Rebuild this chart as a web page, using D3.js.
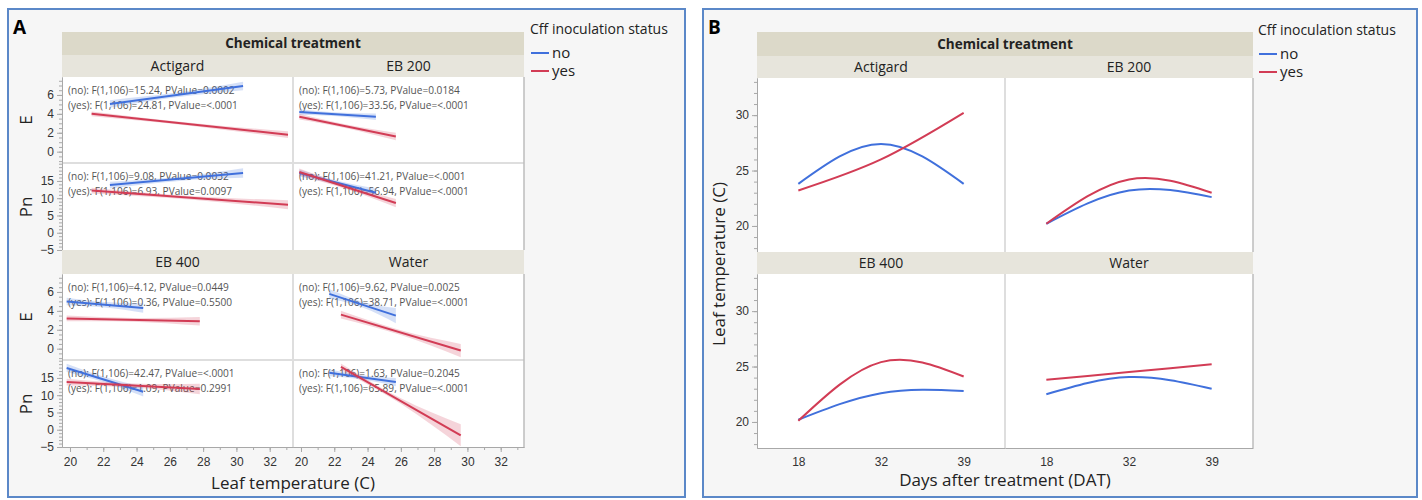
<!DOCTYPE html>
<html>
<head>
<meta charset="utf-8">
<script src="https://cdn.jsdelivr.net/npm/d3@7"></script>
<style>
body { margin: 0; background: #fff; }
svg { display: block; font-family: "Open Sans", "Noto Sans", sans-serif; }
</style>
</head>
<body>
<div id="chart"></div>
<script>
var svgWidth = 1422;
var svgHeight = 500;
var blue = "#4070dc";
var red = "#d23c55";

var treatments = ["Actigard", "EB 200", "EB 400", "Water"];
var statuses = ["no", "yes"];

// panel A fitted lines, per treatment: [temp start, temp end, value start, value end]
var eNo = [[22.4, 30.4, 5.05, 6.95], [19.9, 24.5, 4.2, 3.7], [19.8, 24.4, 5.0, 4.3], [21.7, 25.7, 5.8, 3.5]];
var eYes = [[21.3, 33.1, 4.0, 1.8], [19.9, 25.7, 3.7, 1.6], [19.8, 27.8, 3.2, 2.9], [22.4, 29.6, 3.6, -0.2]];
var pnNo = [[22.4, 30.4, 13.8, 17.3], [19.9, 24.5, 17.3, 11.6], [19.8, 24.4, 17.9, 11.0], [21.7, 25.7, 16.5, 13.8]];
var pnYes = [[21.3, 33.1, 12.2, 8.1], [19.9, 25.7, 17.6, 8.6], [19.8, 27.8, 13.8, 11.8], [22.4, 29.6, 18.2, -1.6]];

// confidence band half widths: start, middle, end
var eNoBand = [[0.4, 0.25, 0.45], [0.3, 0.2, 0.35], [0.4, 0.3, 0.5], [0.5, 0.3, 0.8]];
var eYesBand = [[0.25, 0.15, 0.35], [0.3, 0.2, 0.4], [0.3, 0.2, 0.45], [0.4, 0.25, 0.7]];
var pnNoBand = [[1.0, 0.6, 1.4], [1.0, 0.6, 1.2], [1.2, 0.8, 1.4], [1.0, 0.6, 1.2]];
var pnYesBand = [[0.8, 0.5, 1.3], [1.0, 0.6, 1.2], [1.0, 0.6, 1.5], [1.0, 0.8, 3.2]];

var eStats = [
  ["(no): F(1,106)=15.24, PValue=0.0002", "(yes): F(1,106)=24.81, PValue=<.0001"],
  ["(no): F(1,106)=5.73, PValue=0.0184", "(yes): F(1,106)=33.56, PValue=<.0001"],
  ["(no): F(1,106)=4.12, PValue=0.0449", "(yes): F(1,106)=0.36, PValue=0.5500"],
  ["(no): F(1,106)=9.62, PValue=0.0025", "(yes): F(1,106)=38.71, PValue=<.0001"]
];
var pnStats = [
  ["(no): F(1,106)=9.08, PValue=0.0032", "(yes): F(1,106)=6.93, PValue=0.0097"],
  ["(no): F(1,106)=41.21, PValue=<.0001", "(yes): F(1,106)=56.94, PValue=<.0001"],
  ["(no): F(1,106)=42.47, PValue=<.0001", "(yes): F(1,106)=1.09, PValue=0.2991"],
  ["(no): F(1,106)=1.63, PValue=0.2045", "(yes): F(1,106)=65.89, PValue=<.0001"]
];

var tempTicks = [20, 22, 24, 26, 28, 30, 32];
var eTicks = [0, 2, 4, 6];
var pnTicks = [-5, 0, 5, 10, 15];

// panel B: leaf temperature by days after treatment
var dat = ["18", "32", "39"];
var leafNo = [[23.8, 27.4, 23.8], [20.2, 23.2, 22.6], [20.2, 22.6, 22.8], [22.5, 24.05, 23.0]];
var leafYes = [[23.2, 26.0, 30.2], [20.2, 24.2, 23.0], [20.1, 25.4, 24.1], [23.8, 24.5, 25.2]];
var leafTicks = [20, 25, 30];

var svg = d3.select("#chart").append("svg")
  .attr("width", svgWidth)
  .attr("height", svgHeight);

function frame(x, y, w, h, letter) {
  svg.append("rect")
    .attr("x", x).attr("y", y).attr("width", w).attr("height", h)
    .attr("fill", "#f6f6f6").attr("stroke", "#5b88c8").attr("stroke-width", 2);
  svg.append("text")
    .attr("x", x + 5).attr("y", y + 25)
    .attr("font-size", 19).attr("font-weight", "bold").attr("fill", "#000")
    .text(letter);
}

function strip(x, y, w, h, label, fill, bold) {
  svg.append("rect").attr("x", x).attr("y", y).attr("width", w).attr("height", h).attr("fill", fill);
  svg.append("text")
    .attr("x", x + w / 2).attr("y", y + h / 2)
    .attr("dy", "0.35em").attr("text-anchor", "middle")
    .attr("font-size", bold ? 13.5 : 14)
    .attr("font-weight", bold ? "bold" : "normal")
    .attr("fill", "#222")
    .text(label);
}

function legend(x, y) {
  svg.append("text").attr("x", x).attr("y", y).attr("dy", "0.35em")
    .attr("font-size", 14).attr("fill", "#222").text("Cff inoculation status");
  statuses.forEach(function (s, i) {
    var ly = y + 24 + i * 18;
    svg.append("line").attr("x1", x + 1).attr("x2", x + 19).attr("y1", ly).attr("y2", ly)
      .attr("stroke", i == 0 ? blue : red).attr("stroke-width", 2);
    svg.append("text").attr("x", x + 22).attr("y", ly).attr("dy", "0.35em")
      .attr("font-size", 15).attr("fill", "#222").text(s);
  });
}

function styleAxis(g) {
  g.select(".domain").attr("stroke", "#a8a8a8");
  g.selectAll(".tick line").attr("stroke", "#a8a8a8");
  g.selectAll(".tick text").attr("fill", "#333").attr("font-family", "inherit");
}

function yAxisWithMinor(x, scale, major, minorStep, fontSize) {
  var d = scale.domain();
  var minor = d3.range(Math.ceil(d[0] / minorStep) * minorStep, d[1], minorStep);
  svg.append("g").attr("transform", "translate(" + x + ",0)")
    .call(d3.axisLeft(scale).tickValues(minor).tickSize(3).tickFormat("").tickSizeOuter(0))
    .call(styleAxis);
  svg.append("g").attr("transform", "translate(" + x + ",0)")
    .call(d3.axisLeft(scale).tickValues(major).tickSize(5).tickSizeOuter(0).tickPadding(3))
    .call(styleAxis)
    .selectAll(".tick text").attr("font-size", fontSize);
}

// ---------------- panel A ----------------
frame(8, 9, 677, 488, "A");
legend(530, 29);

var colL = [62, 293];
var colW = 231;
var blockTop = [55, 250];
var stripH = [22, 24];

strip(62, 32, 462, 23, "Chemical treatment", "#dcd9c9", true);

var bandArea = function (x, y) {
  return d3.area().x(function (d) { return x(d[0]); })
    .y0(function (d) { return y(d[1] - d[2]); })
    .y1(function (d) { return y(d[1] + d[2]); })
    .curve(d3.curveNatural);
};

function drawFit(g, x, y, fit, band, color) {
  var tm = (fit[0] + fit[1]) / 2, vm = (fit[2] + fit[3]) / 2;
  var pts = [[fit[0], fit[2], band[0]], [tm, vm, band[1]], [fit[1], fit[3], band[2]]];
  g.append("path").attr("d", bandArea(x, y)(pts))
    .attr("fill", color).attr("fill-opacity", 0.22);
  g.append("line")
    .attr("x1", x(fit[0])).attr("y1", y(fit[2]))
    .attr("x2", x(fit[1])).attr("y2", y(fit[3]))
    .attr("stroke", color).attr("stroke-width", 2);
}

[0, 1].forEach(function (b) {
  var top = blockTop[b] + stripH[b];
  var eY = d3.scaleLinear().domain([-1.2, 7.9]).range([top + 86, top]);
  var pnY = d3.scaleLinear().domain([-5, 20.2]).range([top + 173, top + 86]);

  [0, 1].forEach(function (c) {
    var t = b * 2 + c;
    var x = d3.scaleLinear().domain([19.52, 33.4]).range([colL[c], colL[c] + colW]);
    strip(colL[c], blockTop[b], colW, stripH[b], treatments[t], "#e7e5dc", false);
    svg.append("rect").attr("x", colL[c]).attr("y", top).attr("width", colW).attr("height", 173)
      .attr("fill", "#fff");

    var g = svg.append("g");
    // stats text sits under the lines
    [[eStats[t], top], [pnStats[t], top + 86]].forEach(function (s) {
      s[0].forEach(function (line, i) {
        g.append("text").attr("x", colL[c] + 6).attr("y", s[1] + 13 + i * 15.5)
          .attr("dy", "0.35em").attr("font-size", 10.1).attr("fill", "#555").text(line);
      });
    });
    drawFit(g, x, eY, eNo[t], eNoBand[t], blue);
    drawFit(g, x, eY, eYes[t], eYesBand[t], red);
    drawFit(g, x, pnY, pnNo[t], pnNoBand[t], blue);
    drawFit(g, x, pnY, pnYes[t], pnYesBand[t], red);

    // row separator
    svg.append("line").attr("x1", colL[c]).attr("x2", colL[c] + colW)
      .attr("y1", top + 86).attr("y2", top + 86).attr("stroke", "#dedede").attr("stroke-width", 2);

    if (b == 1) {
      var xMinor = d3.range(20, 34, 1);
      svg.append("g").attr("transform", "translate(0," + (top + 173) + ")")
        .call(d3.axisBottom(x).tickValues(xMinor).tickSize(3).tickFormat("").tickSizeOuter(0))
        .call(styleAxis);
      svg.append("g").attr("transform", "translate(0," + (top + 173) + ")")
        .call(d3.axisBottom(x).tickValues(tempTicks).tickSize(5).tickSizeOuter(0).tickPadding(5))
        .call(styleAxis)
        .selectAll(".tick text").attr("font-size", 12);
    }
  });

  // column separator and right border
  svg.append("line").attr("x1", 293).attr("x2", 293).attr("y1", top).attr("y2", top + 173)
    .attr("stroke", "#dedede").attr("stroke-width", 2);
  svg.append("line").attr("x1", 524).attr("x2", 524).attr("y1", top).attr("y2", top + 173)
    .attr("stroke", "#bdbdbd").attr("stroke-width", 1.5);

  yAxisWithMinor(62, eY, eTicks, 0.5, 12);
  yAxisWithMinor(62, pnY, pnTicks, 1, 12);

  svg.append("text").attr("transform", "translate(26," + (top + 43) + ") rotate(-90)")
    .attr("text-anchor", "middle").attr("dy", "0.35em").attr("font-size", 17).attr("fill", "#222").text("E");
  svg.append("text").attr("transform", "translate(26," + (top + 130) + ") rotate(-90)")
    .attr("text-anchor", "middle").attr("dy", "0.35em").attr("font-size", 17).attr("fill", "#222").text("Pn");
});

svg.append("text").attr("x", 293).attr("y", 483).attr("dy", "0.35em")
  .attr("text-anchor", "middle").attr("font-size", 17).attr("fill", "#222")
  .text("Leaf temperature (C)");

// ---------------- panel B ----------------
frame(703, 9, 714, 488, "B");
legend(1258, 30);

var colLB = [757, 1005];
var colWB = 248;
var blockTopB = [56, 252];

strip(757, 32, 496, 24, "Chemical treatment", "#dcd9c9", true);

var line = d3.line().curve(d3.curveNatural);

[0, 1].forEach(function (b) {
  var top = blockTopB[b] + 22;
  var y = d3.scaleLinear().domain([17.65, 33.35]).range([top + 174, top]);

  [0, 1].forEach(function (c) {
    var t = b * 2 + c;
    var x = d3.scalePoint().domain(dat).range([colLB[c], colLB[c] + colWB]).padding(0.5);
    strip(colLB[c], blockTopB[b], colWB, 22, treatments[t], "#e7e5dc", false);
    svg.append("rect").attr("x", colLB[c]).attr("y", top).attr("width", colWB).attr("height", 174)
      .attr("fill", "#fff");

    [[leafNo[t], blue], [leafYes[t], red]].forEach(function (s) {
      var pts = s[0].map(function (v, i) { return [x(dat[i]), y(v)]; });
      svg.append("path").attr("d", line(pts)).attr("fill", "none")
        .attr("stroke", s[1]).attr("stroke-width", 2);
    });

    if (b == 1) {
      svg.append("g").attr("transform", "translate(0," + (top + 174) + ")")
        .call(d3.axisBottom(x).tickSize(0).tickSizeOuter(0).tickPadding(9))
        .call(styleAxis)
        .selectAll(".tick text").attr("font-size", 12);
    }
  });

  svg.append("line").attr("x1", 1005).attr("x2", 1005).attr("y1", top).attr("y2", top + 174)
    .attr("stroke", "#dedede").attr("stroke-width", 2);
  svg.append("line").attr("x1", 1253).attr("x2", 1253).attr("y1", top).attr("y2", top + 174)
    .attr("stroke", "#bdbdbd").attr("stroke-width", 1.5);
  yAxisWithMinor(757, y, leafTicks, 1, 12);
});

svg.append("text").attr("transform", "translate(719,264) rotate(-90)")
  .attr("text-anchor", "middle").attr("dy", "0.35em").attr("font-size", 17).attr("fill", "#222")
  .text("Leaf temperature (C)");
svg.append("text").attr("x", 1005).attr("y", 480).attr("dy", "0.35em")
  .attr("text-anchor", "middle").attr("font-size", 17).attr("fill", "#222")
  .text("Days after treatment (DAT)");
</script>
</body>
</html>
